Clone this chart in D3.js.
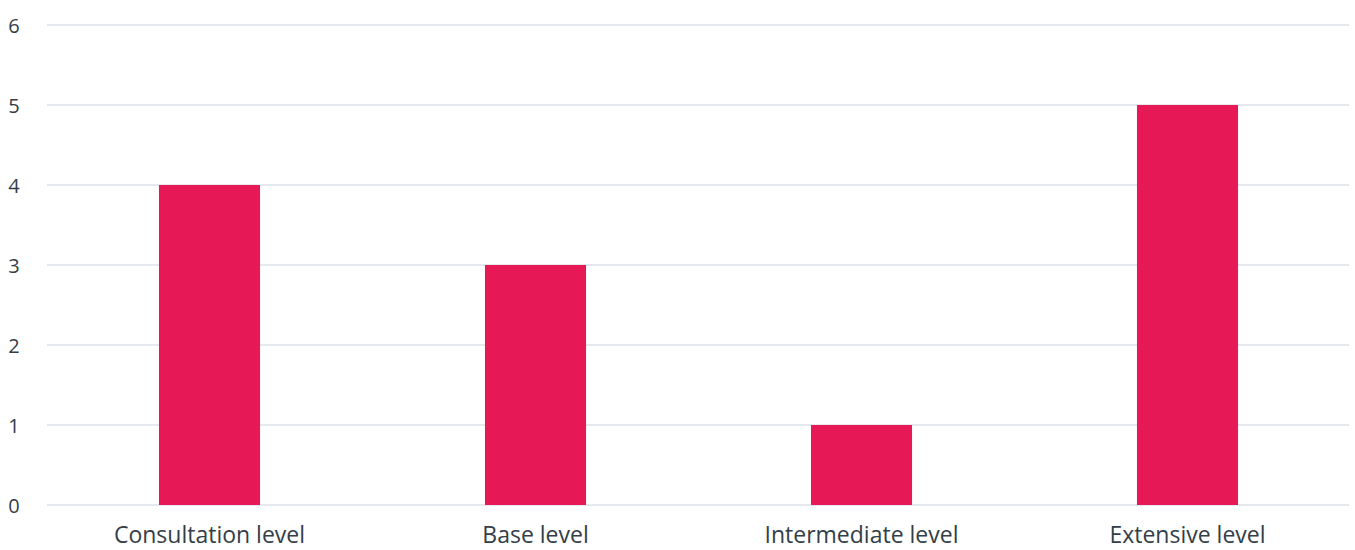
<!DOCTYPE html>
<html><head><meta charset="utf-8">
<script src="https://cdn.jsdelivr.net/npm/d3@7"></script>
<style>body{margin:0;background:#fff}svg{display:block}text{font-family:"Open Sans",Lato,sans-serif;fill:#333e48}</style>
</head><body><svg id="c" width="1355" height="550"></svg>
<script>
const categories = ["Consultation level","Base level","Intermediate level","Extensive level"];
const values = [4,3,1,5];
const yTicks = [0,1,2,3,4,5,6];

const svg = d3.select("#c");
const x = d3.scaleBand().domain(categories).range([46.5,1350.5]).paddingInner(0.69).paddingOuter(0.345);
const y = d3.scaleLinear().domain([0,6]).range([505,25]);

svg.append("g").selectAll("line").data(yTicks).join("line")
  .attr("x1",47).attr("x2",1349).attr("y1",d=>y(d)).attr("y2",d=>y(d))
  .attr("stroke","#dde2e8").attr("stroke-width",1.5);

svg.append("g").selectAll("rect").data(values).join("rect")
  .attr("x",(d,i)=>x(categories[i])).attr("width",x.bandwidth())
  .attr("y",d=>y(d)).attr("height",d=>y(0)-y(d)).attr("fill","#e61855");

svg.append("g").selectAll("text").data(yTicks).join("text")
  .attr("x",14).attr("y",d=>y(d)+8).attr("text-anchor","middle")
  .style("font-size","20px").text(d=>d);

svg.append("g").selectAll("text").data(categories).join("text")
  .attr("x",d=>x(d)+x.bandwidth()/2).attr("y",543).attr("text-anchor","middle")
  .style("font-size","23px").text(d=>d);
</script></body></html>
